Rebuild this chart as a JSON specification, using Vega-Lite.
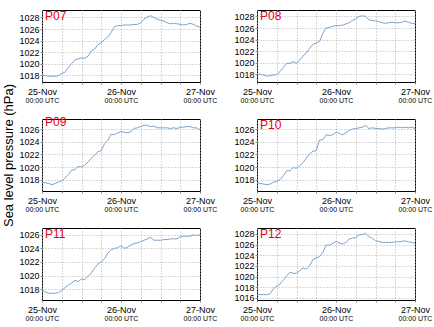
{
"$schema":"https://vega.github.io/schema/vega-lite/v6.json",
"padding":{"left":2,"top":9,"right":2,"bottom":2},
"config":{
 "font":"Liberation Sans",
 "view":{"stroke":"#000","strokeWidth":1},
 "axis":{"labelFont":"Liberation Sans","labelColor":"#000","labelFontSize":9,"titleFont":"Liberation Sans","titleColor":"#000","domain":false,"gridColor":"#b0b0b0","gridDash":[1,2],"gridWidth":1,"tickColor":"#888","tickSize":2,"labelOverlap":false,"labelFlush":false,"labelBound":false},
 "title":{"font":"Liberation Sans"}
},
"datasets":{"d":[
{"s":"P07","h":0,"p":1018.0},{"s":"P07","h":1,"p":1017.9},{"s":"P07","h":2,"p":1017.8},{"s":"P07","h":3,"p":1017.8},{"s":"P07","h":4,"p":1017.8},{"s":"P07","h":5,"p":1017.9},{"s":"P07","h":6,"p":1018.3},{"s":"P07","h":7,"p":1018.5},{"s":"P07","h":8,"p":1019.3},{"s":"P07","h":9,"p":1020.0},{"s":"P07","h":10,"p":1020.6},{"s":"P07","h":11,"p":1020.8},{"s":"P07","h":12,"p":1021.0},{"s":"P07","h":13,"p":1020.9},{"s":"P07","h":14,"p":1021.3},{"s":"P07","h":15,"p":1022.2},{"s":"P07","h":16,"p":1022.5},{"s":"P07","h":17,"p":1023.3},{"s":"P07","h":18,"p":1023.6},{"s":"P07","h":19,"p":1024.2},{"s":"P07","h":20,"p":1024.6},{"s":"P07","h":21,"p":1025.4},{"s":"P07","h":22,"p":1026.4},{"s":"P07","h":23,"p":1026.6},{"s":"P07","h":24,"p":1026.6},{"s":"P07","h":25,"p":1026.7},{"s":"P07","h":26,"p":1026.7},{"s":"P07","h":27,"p":1026.7},{"s":"P07","h":28,"p":1026.8},{"s":"P07","h":29,"p":1026.8},{"s":"P07","h":30,"p":1027.1},{"s":"P07","h":31,"p":1027.7},{"s":"P07","h":32,"p":1028.1},{"s":"P07","h":33,"p":1028.3},{"s":"P07","h":34,"p":1028.0},{"s":"P07","h":35,"p":1027.7},{"s":"P07","h":36,"p":1027.5},{"s":"P07","h":37,"p":1027.4},{"s":"P07","h":38,"p":1027.1},{"s":"P07","h":39,"p":1026.9},{"s":"P07","h":40,"p":1027.0},{"s":"P07","h":41,"p":1026.9},{"s":"P07","h":42,"p":1026.8},{"s":"P07","h":43,"p":1026.7},{"s":"P07","h":44,"p":1026.8},{"s":"P07","h":45,"p":1027.0},{"s":"P07","h":46,"p":1026.8},{"s":"P07","h":47,"p":1026.5},{"s":"P07","h":48,"p":1026.3},
{"s":"P08","h":0,"p":1018.1},{"s":"P08","h":1,"p":1018.0},{"s":"P08","h":2,"p":1017.9},{"s":"P08","h":3,"p":1017.7},{"s":"P08","h":4,"p":1017.8},{"s":"P08","h":5,"p":1017.9},{"s":"P08","h":6,"p":1018.0},{"s":"P08","h":7,"p":1018.5},{"s":"P08","h":8,"p":1019.2},{"s":"P08","h":9,"p":1019.9},{"s":"P08","h":10,"p":1019.9},{"s":"P08","h":11,"p":1020.2},{"s":"P08","h":12,"p":1019.9},{"s":"P08","h":13,"p":1020.5},{"s":"P08","h":14,"p":1021.2},{"s":"P08","h":15,"p":1021.7},{"s":"P08","h":16,"p":1022.5},{"s":"P08","h":17,"p":1023.2},{"s":"P08","h":18,"p":1023.4},{"s":"P08","h":19,"p":1023.7},{"s":"P08","h":20,"p":1025.1},{"s":"P08","h":21,"p":1026.0},{"s":"P08","h":22,"p":1026.1},{"s":"P08","h":23,"p":1026.3},{"s":"P08","h":24,"p":1026.4},{"s":"P08","h":25,"p":1026.4},{"s":"P08","h":26,"p":1026.5},{"s":"P08","h":27,"p":1026.7},{"s":"P08","h":28,"p":1026.9},{"s":"P08","h":29,"p":1027.3},{"s":"P08","h":30,"p":1027.6},{"s":"P08","h":31,"p":1028.0},{"s":"P08","h":32,"p":1028.1},{"s":"P08","h":33,"p":1028.0},{"s":"P08","h":34,"p":1027.4},{"s":"P08","h":35,"p":1027.3},{"s":"P08","h":36,"p":1027.2},{"s":"P08","h":37,"p":1027.1},{"s":"P08","h":38,"p":1026.9},{"s":"P08","h":39,"p":1026.8},{"s":"P08","h":40,"p":1026.9},{"s":"P08","h":41,"p":1027.0},{"s":"P08","h":42,"p":1026.9},{"s":"P08","h":43,"p":1026.9},{"s":"P08","h":44,"p":1027.0},{"s":"P08","h":45,"p":1027.2},{"s":"P08","h":46,"p":1027.0},{"s":"P08","h":47,"p":1026.8},{"s":"P08","h":48,"p":1026.8},
{"s":"P09","h":0,"p":1017.6},{"s":"P09","h":1,"p":1017.5},{"s":"P09","h":2,"p":1017.4},{"s":"P09","h":3,"p":1017.2},{"s":"P09","h":4,"p":1017.4},{"s":"P09","h":5,"p":1017.6},{"s":"P09","h":6,"p":1017.8},{"s":"P09","h":7,"p":1018.3},{"s":"P09","h":8,"p":1018.8},{"s":"P09","h":9,"p":1019.5},{"s":"P09","h":10,"p":1019.6},{"s":"P09","h":11,"p":1020.1},{"s":"P09","h":12,"p":1020.0},{"s":"P09","h":13,"p":1020.3},{"s":"P09","h":14,"p":1020.8},{"s":"P09","h":15,"p":1021.4},{"s":"P09","h":16,"p":1021.9},{"s":"P09","h":17,"p":1022.4},{"s":"P09","h":18,"p":1022.6},{"s":"P09","h":19,"p":1023.7},{"s":"P09","h":20,"p":1024.2},{"s":"P09","h":21,"p":1025.2},{"s":"P09","h":22,"p":1025.1},{"s":"P09","h":23,"p":1025.4},{"s":"P09","h":24,"p":1025.6},{"s":"P09","h":25,"p":1025.5},{"s":"P09","h":26,"p":1025.4},{"s":"P09","h":27,"p":1025.6},{"s":"P09","h":28,"p":1026.1},{"s":"P09","h":29,"p":1026.2},{"s":"P09","h":30,"p":1026.4},{"s":"P09","h":31,"p":1026.6},{"s":"P09","h":32,"p":1026.6},{"s":"P09","h":33,"p":1026.4},{"s":"P09","h":34,"p":1026.5},{"s":"P09","h":35,"p":1026.2},{"s":"P09","h":36,"p":1026.2},{"s":"P09","h":37,"p":1026.2},{"s":"P09","h":38,"p":1026.2},{"s":"P09","h":39,"p":1026.1},{"s":"P09","h":40,"p":1026.2},{"s":"P09","h":41,"p":1026.1},{"s":"P09","h":42,"p":1026.3},{"s":"P09","h":43,"p":1026.3},{"s":"P09","h":44,"p":1026.4},{"s":"P09","h":45,"p":1026.4},{"s":"P09","h":46,"p":1026.2},{"s":"P09","h":47,"p":1026.2},{"s":"P09","h":48,"p":1025.9},
{"s":"P10","h":0,"p":1017.5},{"s":"P10","h":1,"p":1017.4},{"s":"P10","h":2,"p":1017.3},{"s":"P10","h":3,"p":1017.2},{"s":"P10","h":4,"p":1017.3},{"s":"P10","h":5,"p":1017.6},{"s":"P10","h":6,"p":1017.7},{"s":"P10","h":7,"p":1018.0},{"s":"P10","h":8,"p":1018.6},{"s":"P10","h":9,"p":1019.4},{"s":"P10","h":10,"p":1019.4},{"s":"P10","h":11,"p":1019.9},{"s":"P10","h":12,"p":1019.8},{"s":"P10","h":13,"p":1020.2},{"s":"P10","h":14,"p":1020.7},{"s":"P10","h":15,"p":1021.4},{"s":"P10","h":16,"p":1022.1},{"s":"P10","h":17,"p":1022.5},{"s":"P10","h":18,"p":1022.6},{"s":"P10","h":19,"p":1024.3},{"s":"P10","h":20,"p":1024.3},{"s":"P10","h":21,"p":1025.1},{"s":"P10","h":22,"p":1025.0},{"s":"P10","h":23,"p":1025.1},{"s":"P10","h":24,"p":1025.5},{"s":"P10","h":25,"p":1025.3},{"s":"P10","h":26,"p":1025.1},{"s":"P10","h":27,"p":1025.4},{"s":"P10","h":28,"p":1025.8},{"s":"P10","h":29,"p":1026.0},{"s":"P10","h":30,"p":1026.1},{"s":"P10","h":31,"p":1026.2},{"s":"P10","h":32,"p":1026.3},{"s":"P10","h":33,"p":1026.6},{"s":"P10","h":34,"p":1026.1},{"s":"P10","h":35,"p":1026.2},{"s":"P10","h":36,"p":1026.1},{"s":"P10","h":37,"p":1026.1},{"s":"P10","h":38,"p":1026.0},{"s":"P10","h":39,"p":1026.1},{"s":"P10","h":40,"p":1026.2},{"s":"P10","h":41,"p":1026.2},{"s":"P10","h":42,"p":1026.2},{"s":"P10","h":43,"p":1026.3},{"s":"P10","h":44,"p":1026.2},{"s":"P10","h":45,"p":1026.3},{"s":"P10","h":46,"p":1026.2},{"s":"P10","h":47,"p":1026.3},{"s":"P10","h":48,"p":1026.1},
{"s":"P11","h":0,"p":1017.9},{"s":"P11","h":1,"p":1017.6},{"s":"P11","h":2,"p":1017.4},{"s":"P11","h":3,"p":1017.4},{"s":"P11","h":4,"p":1017.4},{"s":"P11","h":5,"p":1017.5},{"s":"P11","h":6,"p":1017.8},{"s":"P11","h":7,"p":1018.2},{"s":"P11","h":8,"p":1018.6},{"s":"P11","h":9,"p":1018.9},{"s":"P11","h":10,"p":1019.3},{"s":"P11","h":11,"p":1019.1},{"s":"P11","h":12,"p":1019.5},{"s":"P11","h":13,"p":1019.4},{"s":"P11","h":14,"p":1019.9},{"s":"P11","h":15,"p":1020.4},{"s":"P11","h":16,"p":1021.1},{"s":"P11","h":17,"p":1021.7},{"s":"P11","h":18,"p":1022.0},{"s":"P11","h":19,"p":1022.5},{"s":"P11","h":20,"p":1023.3},{"s":"P11","h":21,"p":1023.8},{"s":"P11","h":22,"p":1024.0},{"s":"P11","h":23,"p":1024.1},{"s":"P11","h":24,"p":1024.4},{"s":"P11","h":25,"p":1024.0},{"s":"P11","h":26,"p":1024.2},{"s":"P11","h":27,"p":1024.5},{"s":"P11","h":28,"p":1024.7},{"s":"P11","h":29,"p":1024.8},{"s":"P11","h":30,"p":1025.0},{"s":"P11","h":31,"p":1025.2},{"s":"P11","h":32,"p":1025.4},{"s":"P11","h":33,"p":1025.6},{"s":"P11","h":34,"p":1025.2},{"s":"P11","h":35,"p":1025.2},{"s":"P11","h":36,"p":1025.2},{"s":"P11","h":37,"p":1025.3},{"s":"P11","h":38,"p":1025.3},{"s":"P11","h":39,"p":1025.4},{"s":"P11","h":40,"p":1025.4},{"s":"P11","h":41,"p":1025.4},{"s":"P11","h":42,"p":1025.7},{"s":"P11","h":43,"p":1025.8},{"s":"P11","h":44,"p":1025.8},{"s":"P11","h":45,"p":1025.8},{"s":"P11","h":46,"p":1026.0},{"s":"P11","h":47,"p":1025.9},{"s":"P11","h":48,"p":1026.0},
{"s":"P12","h":0,"p":1016.6},{"s":"P12","h":1,"p":1016.6},{"s":"P12","h":2,"p":1016.6},{"s":"P12","h":3,"p":1016.6},{"s":"P12","h":4,"p":1016.8},{"s":"P12","h":5,"p":1017.7},{"s":"P12","h":6,"p":1018.2},{"s":"P12","h":7,"p":1018.6},{"s":"P12","h":8,"p":1019.3},{"s":"P12","h":9,"p":1020.1},{"s":"P12","h":10,"p":1020.8},{"s":"P12","h":11,"p":1020.6},{"s":"P12","h":12,"p":1020.6},{"s":"P12","h":13,"p":1021.1},{"s":"P12","h":14,"p":1021.6},{"s":"P12","h":15,"p":1021.4},{"s":"P12","h":16,"p":1022.0},{"s":"P12","h":17,"p":1023.2},{"s":"P12","h":18,"p":1023.5},{"s":"P12","h":19,"p":1023.7},{"s":"P12","h":20,"p":1024.5},{"s":"P12","h":21,"p":1025.9},{"s":"P12","h":22,"p":1025.9},{"s":"P12","h":23,"p":1026.2},{"s":"P12","h":24,"p":1026.6},{"s":"P12","h":25,"p":1026.3},{"s":"P12","h":26,"p":1026.1},{"s":"P12","h":27,"p":1026.4},{"s":"P12","h":28,"p":1027.0},{"s":"P12","h":29,"p":1027.2},{"s":"P12","h":30,"p":1027.3},{"s":"P12","h":31,"p":1027.8},{"s":"P12","h":32,"p":1027.9},{"s":"P12","h":33,"p":1028.1},{"s":"P12","h":34,"p":1027.5},{"s":"P12","h":35,"p":1027.2},{"s":"P12","h":36,"p":1026.7},{"s":"P12","h":37,"p":1026.6},{"s":"P12","h":38,"p":1026.4},{"s":"P12","h":39,"p":1026.4},{"s":"P12","h":40,"p":1026.4},{"s":"P12","h":41,"p":1026.4},{"s":"P12","h":42,"p":1026.5},{"s":"P12","h":43,"p":1026.5},{"s":"P12","h":44,"p":1026.6},{"s":"P12","h":45,"p":1026.7},{"s":"P12","h":46,"p":1026.5},{"s":"P12","h":47,"p":1026.4},{"s":"P12","h":48,"p":1026.2}
]},
"data":{"name":"d"},
"bounds":"flush",
"columns":2,
"spacing":{"row":37,"column":57},
"concat":[
  {"title":{"text":"P07","anchor":"start","frame":"group","color":"#e8000b","fontSize":12,"fontWeight":"normal","offset":-13,"dx":3},
   "width":158,"height":72,"transform":[{"filter":"datum.s=='P07'"}],
   "layer":[
    {"mark":{"type":"line","color":"#7ba3cc","strokeWidth":1},
     "encoding":{"x":{"field":"h","type":"quantitative","scale":{"domain":[0,48],"nice":false},"axis":{"orient":"bottom","values":[0,6,12,18,24,30,36,42,48],"tickCount":20,"labelExpr":"datum.value==0 ? '25-Nov' : datum.value==24 ? '26-Nov' : datum.value==48 ? '27-Nov' : ''","labelPadding":3,"title":null,"grid":true}},
      "y":{"field":"p","type":"quantitative","scale":{"domain":[1016.8,1029.3],"nice":false,"zero":false},"axis":{"values":[1018,1020,1022,1024,1026,1028],"tickCount":20,"format":"d","title":null,"grid":true,"labelPadding":1}}}},
    {"mark":{"type":"line","strokeOpacity":0},
     "encoding":{"x":{"field":"h","type":"quantitative","axis":{"orient":"bottom","values":[0,24,48],"tickCount":20,"labelExpr":"'00:00 UTC'","labelFontSize":7,"labelPadding":14,"ticks":false,"grid":false,"title":null}},
      "y":{"field":"p","type":"quantitative"}}}
   ],"resolve":{"axis":{"x":"independent"}}},
  {"title":{"text":"P08","anchor":"start","frame":"group","color":"#e8000b","fontSize":12,"fontWeight":"normal","offset":-13,"dx":3},
   "width":158,"height":72,"transform":[{"filter":"datum.s=='P08'"}],
   "layer":[
    {"mark":{"type":"line","color":"#7ba3cc","strokeWidth":1},
     "encoding":{"x":{"field":"h","type":"quantitative","scale":{"domain":[0,48],"nice":false},"axis":{"orient":"bottom","values":[0,6,12,18,24,30,36,42,48],"tickCount":20,"labelExpr":"datum.value==0 ? '25-Nov' : datum.value==24 ? '26-Nov' : datum.value==48 ? '27-Nov' : ''","labelPadding":3,"title":null,"grid":true}},
      "y":{"field":"p","type":"quantitative","scale":{"domain":[1016.7,1029.1],"nice":false,"zero":false},"axis":{"values":[1018,1020,1022,1024,1026,1028],"tickCount":20,"format":"d","title":null,"grid":true,"labelPadding":1}}}},
    {"mark":{"type":"line","strokeOpacity":0},
     "encoding":{"x":{"field":"h","type":"quantitative","axis":{"orient":"bottom","values":[0,24,48],"tickCount":20,"labelExpr":"'00:00 UTC'","labelFontSize":7,"labelPadding":14,"ticks":false,"grid":false,"title":null}},
      "y":{"field":"p","type":"quantitative"}}}
   ],"resolve":{"axis":{"x":"independent"}}},
  {"title":{"text":"P09","anchor":"start","frame":"group","color":"#e8000b","fontSize":12,"fontWeight":"normal","offset":-46,"dx":3},
   "width":158,"height":72,"transform":[{"filter":"datum.s=='P09'"}],
   "layer":[
    {"mark":{"type":"line","color":"#7ba3cc","strokeWidth":1},
     "encoding":{"x":{"field":"h","type":"quantitative","scale":{"domain":[0,48],"nice":false},"axis":{"orient":"bottom","values":[0,6,12,18,24,30,36,42,48],"tickCount":20,"labelExpr":"datum.value==0 ? '25-Nov' : datum.value==24 ? '26-Nov' : datum.value==48 ? '27-Nov' : ''","labelPadding":3,"title":null,"grid":true}},
      "y":{"field":"p","type":"quantitative","scale":{"domain":[1016.2,1027.6],"nice":false,"zero":false},"axis":{"values":[1018,1020,1022,1024,1026],"tickCount":20,"format":"d","title":"Sea level pressure (hPa)","titleFontSize":13,"titleFontWeight":"normal","titlePadding":3,"grid":true,"labelPadding":1}}}},
    {"mark":{"type":"line","strokeOpacity":0},
     "encoding":{"x":{"field":"h","type":"quantitative","axis":{"orient":"bottom","values":[0,24,48],"tickCount":20,"labelExpr":"'00:00 UTC'","labelFontSize":7,"labelPadding":14,"ticks":false,"grid":false,"title":null}},
      "y":{"field":"p","type":"quantitative"}}}
   ],"resolve":{"axis":{"x":"independent"}}},
  {"title":{"text":"P10","anchor":"start","frame":"group","color":"#e8000b","fontSize":12,"fontWeight":"normal","offset":-13,"dx":3},
   "width":158,"height":72,"transform":[{"filter":"datum.s=='P10'"}],
   "layer":[
    {"mark":{"type":"line","color":"#7ba3cc","strokeWidth":1},
     "encoding":{"x":{"field":"h","type":"quantitative","scale":{"domain":[0,48],"nice":false},"axis":{"orient":"bottom","values":[0,6,12,18,24,30,36,42,48],"tickCount":20,"labelExpr":"datum.value==0 ? '25-Nov' : datum.value==24 ? '26-Nov' : datum.value==48 ? '27-Nov' : ''","labelPadding":3,"title":null,"grid":true}},
      "y":{"field":"p","type":"quantitative","scale":{"domain":[1016.2,1027.6],"nice":false,"zero":false},"axis":{"values":[1018,1020,1022,1024,1026],"tickCount":20,"format":"d","title":null,"grid":true,"labelPadding":1}}}},
    {"mark":{"type":"line","strokeOpacity":0},
     "encoding":{"x":{"field":"h","type":"quantitative","axis":{"orient":"bottom","values":[0,24,48],"tickCount":20,"labelExpr":"'00:00 UTC'","labelFontSize":7,"labelPadding":14,"ticks":false,"grid":false,"title":null}},
      "y":{"field":"p","type":"quantitative"}}}
   ],"resolve":{"axis":{"x":"independent"}}},
  {"title":{"text":"P11","anchor":"start","frame":"group","color":"#e8000b","fontSize":12,"fontWeight":"normal","offset":-13,"dx":3},
   "width":158,"height":72,"transform":[{"filter":"datum.s=='P11'"}],
   "layer":[
    {"mark":{"type":"line","color":"#7ba3cc","strokeWidth":1},
     "encoding":{"x":{"field":"h","type":"quantitative","scale":{"domain":[0,48],"nice":false},"axis":{"orient":"bottom","values":[0,6,12,18,24,30,36,42,48],"tickCount":20,"labelExpr":"datum.value==0 ? '25-Nov' : datum.value==24 ? '26-Nov' : datum.value==48 ? '27-Nov' : ''","labelPadding":3,"title":null,"grid":true}},
      "y":{"field":"p","type":"quantitative","scale":{"domain":[1016.4,1027.0],"nice":false,"zero":false},"axis":{"values":[1018,1020,1022,1024,1026],"tickCount":20,"format":"d","title":null,"grid":true,"labelPadding":1}}}},
    {"mark":{"type":"line","strokeOpacity":0},
     "encoding":{"x":{"field":"h","type":"quantitative","axis":{"orient":"bottom","values":[0,24,48],"tickCount":20,"labelExpr":"'00:00 UTC'","labelFontSize":7,"labelPadding":14,"ticks":false,"grid":false,"title":null}},
      "y":{"field":"p","type":"quantitative"}}}
   ],"resolve":{"axis":{"x":"independent"}}},
  {"title":{"text":"P12","anchor":"start","frame":"group","color":"#e8000b","fontSize":12,"fontWeight":"normal","offset":-13,"dx":3},
   "width":158,"height":72,"transform":[{"filter":"datum.s=='P12'"}],
   "layer":[
    {"mark":{"type":"line","color":"#7ba3cc","strokeWidth":1},
     "encoding":{"x":{"field":"h","type":"quantitative","scale":{"domain":[0,48],"nice":false},"axis":{"orient":"bottom","values":[0,6,12,18,24,30,36,42,48],"tickCount":20,"labelExpr":"datum.value==0 ? '25-Nov' : datum.value==24 ? '26-Nov' : datum.value==48 ? '27-Nov' : ''","labelPadding":3,"title":null,"grid":true}},
      "y":{"field":"p","type":"quantitative","scale":{"domain":[1015.6,1029.1],"nice":false,"zero":false},"axis":{"values":[1016,1018,1020,1022,1024,1026,1028],"tickCount":20,"format":"d","title":null,"grid":true,"labelPadding":1}}}},
    {"mark":{"type":"line","strokeOpacity":0},
     "encoding":{"x":{"field":"h","type":"quantitative","axis":{"orient":"bottom","values":[0,24,48],"tickCount":20,"labelExpr":"'00:00 UTC'","labelFontSize":7,"labelPadding":14,"ticks":false,"grid":false,"title":null}},
      "y":{"field":"p","type":"quantitative"}}}
   ],"resolve":{"axis":{"x":"independent"}}}
]
}
